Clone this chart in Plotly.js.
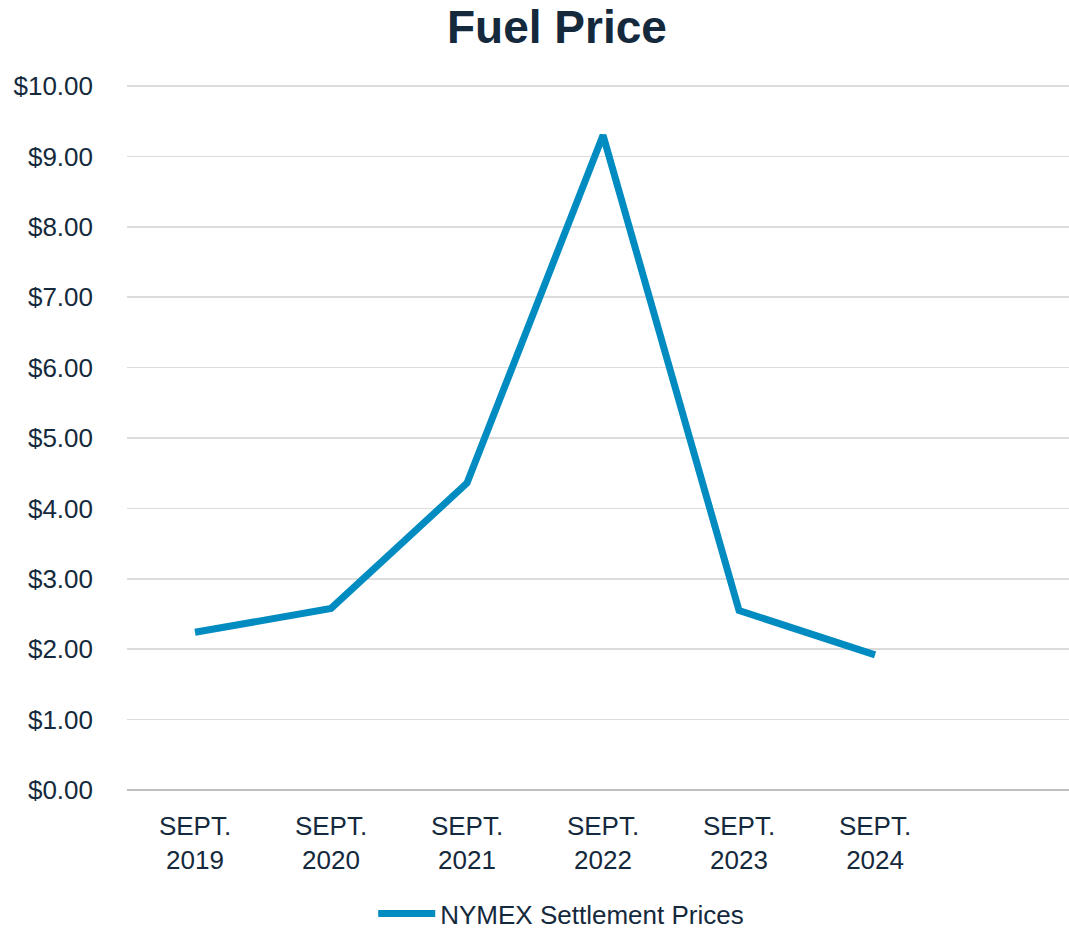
<!DOCTYPE html>
<html>
<head>
<meta charset="utf-8">
<script src="https://cdn.plot.ly/plotly-3.0.1.min.js"></script>
<style>html,body{margin:0;padding:0;background:#fff;}#chart{width:1069px;height:937px;}</style>
</head>
<body>
<div id="chart"></div>
<script>
const categories = ["SEPT. 2019", "SEPT. 2020", "SEPT. 2021", "SEPT. 2022", "SEPT. 2023", "SEPT. 2024"];
const tickLabels = ["SEPT.<br>2019", "SEPT.<br>2020", "SEPT.<br>2021", "SEPT.<br>2022", "SEPT.<br>2023", "SEPT.<br>2024"];
const nymexPrices = [2.24, 2.58, 4.36, 9.30, 2.55, 1.92];
const yTickVals = [0, 1, 2, 3, 4, 5, 6, 7, 8, 9, 10];
const yTickText = ["$0.00", "$1.00", "$2.00", "$3.00", "$4.00", "$5.00", "$6.00", "$7.00", "$8.00", "$9.00", "$10.00"];

const textColor = "#15293d";
const xIdx = categories.map((c, i) => i);

const trace = {
  x: xIdx,
  y: nymexPrices,
  type: "scatter",
  mode: "lines",
  name: "NYMEX Settlement Prices",
  line: { color: "#008bc1", width: 7 },
  hoverinfo: "skip"
};

const layout = {
  width: 1069,
  height: 937,
  paper_bgcolor: "#ffffff",
  plot_bgcolor: "#ffffff",
  margin: { l: 127, r: 0, t: 85, b: 147 },
  font: { family: "Liberation Sans, Arial, sans-serif", color: textColor, size: 26 },
  title: {
    text: "<b>Fuel Price</b>",
    font: { family: "Liberation Sans, Arial, sans-serif", size: 46, color: textColor },
    x: 0.521, xanchor: "center", xref: "container",
    y: 0.971, yanchor: "middle", yref: "container"
  },
  xaxis: {
    type: "linear",
    range: [-0.5, 6.426],
    tickmode: "array",
    tickvals: xIdx,
    ticktext: tickLabels,
    showgrid: false,
    zeroline: false,
    showline: false,
    ticks: "",
    ticklabelstandoff: 18,
    tickfont: { size: 26, color: textColor },
    fixedrange: true
  },
  yaxis: {
    range: [0, 10.015],
    tickmode: "array",
    tickvals: yTickVals,
    ticktext: yTickText,
    showgrid: true,
    gridcolor: "#dcdcdc",
    gridwidth: 1.5,
    zeroline: true,
    zerolinecolor: "#bfbfbf",
    zerolinewidth: 2.5,
    showline: false,
    ticks: "",
    ticklabelstandoff: 33,
    tickfont: { size: 26, color: textColor },
    fixedrange: true
  },
  showlegend: true,
  legend: {
    orientation: "h",
    x: 0.525, xanchor: "center", xref: "container",
    y: 0, yanchor: "bottom", yref: "container",
    font: { size: 26, color: textColor },
    itemwidth: 57,
    bgcolor: "rgba(0,0,0,0)"
  }
};

Plotly.newPlot("chart", [trace], layout, { displayModeBar: false, staticPlot: true });
</script>
</body>
</html>
